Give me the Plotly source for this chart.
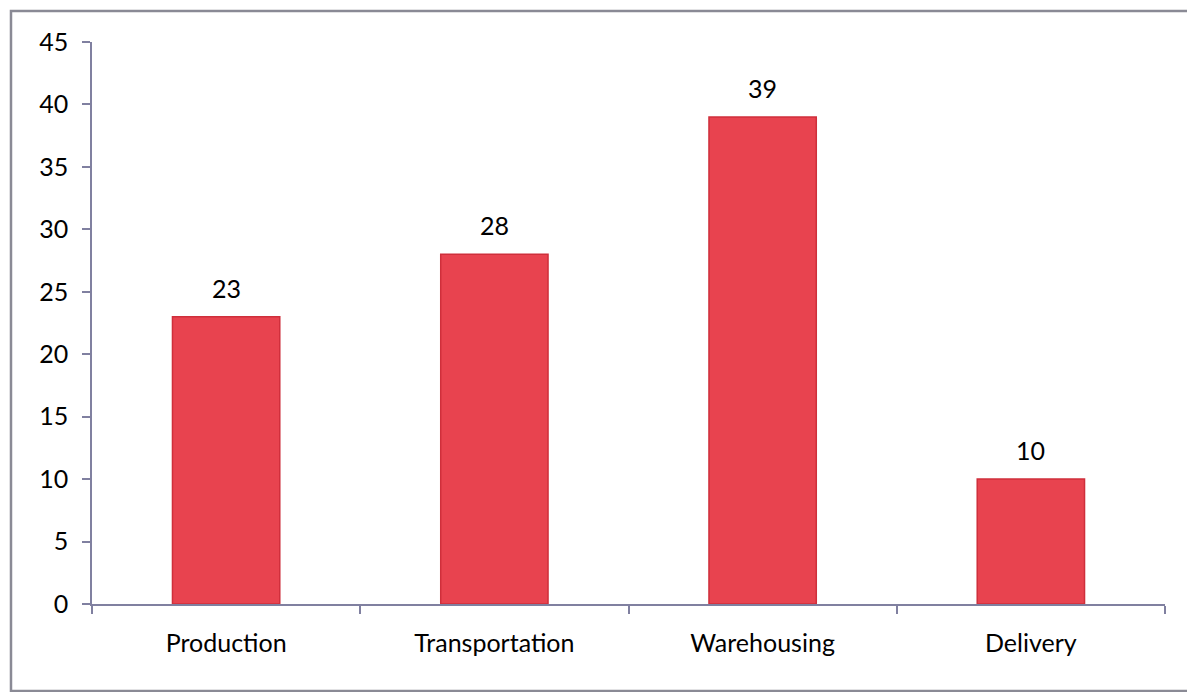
import plotly.graph_objects as go

stages = ["Production", "Transportation", "Warehousing", "Delivery"]
counts = [23, 28, 39, 10]
y_ticks = [0, 5, 10, 15, 20, 25, 30, 35, 40, 45]

axis_color = "rgb(128,128,160)"
font_family = "Lato, 'Open Sans', sans-serif"

fig = go.Figure()
fig.add_trace(go.Bar(
    x=stages,
    y=counts,
    width=0.4,
    marker=dict(color="#e8434f", line=dict(color="#cf2f3b", width=1.5)),
    showlegend=False,
))

# value labels above each bar
for s, v in zip(stages, counts):
    fig.add_annotation(x=s, y=v, text=str(v), showarrow=False,
                       yanchor="bottom", yshift=12,
                       font=dict(size=25, color="#000", family=font_family))

# frame around the chart area
fig.add_shape(type="rect", xref="paper", yref="paper",
              x0=-0.0755, x1=1.04, y0=-0.155, y1=1.055,
              line=dict(color="#8a8a95", width=2.5))

fig.update_layout(
    width=1187, height=692,
    margin=dict(l=92, r=22, t=42, b=88),
    paper_bgcolor="white", plot_bgcolor="white",
    font=dict(family=font_family, size=25, color="#000"),
    bargap=0.6,
    xaxis=dict(
        type="category",
        showline=True, linecolor=axis_color, linewidth=1.5,
        ticks="outside", tickson="boundaries", ticklen=8,
        tickcolor=axis_color, tickwidth=1.5,
        showgrid=False, tickfont=dict(size=25),
        ticklabelstandoff=16,
    ),
    yaxis=dict(
        range=[0, 45], tickvals=y_ticks,
        showline=True, linecolor=axis_color, linewidth=1.5,
        ticks="outside", ticklen=8, tickcolor=axis_color, tickwidth=1.5,
        showgrid=False, zeroline=False, tickfont=dict(size=25),
        ticklabelstandoff=9,
    ),
)

fig.write_html("out.html")
